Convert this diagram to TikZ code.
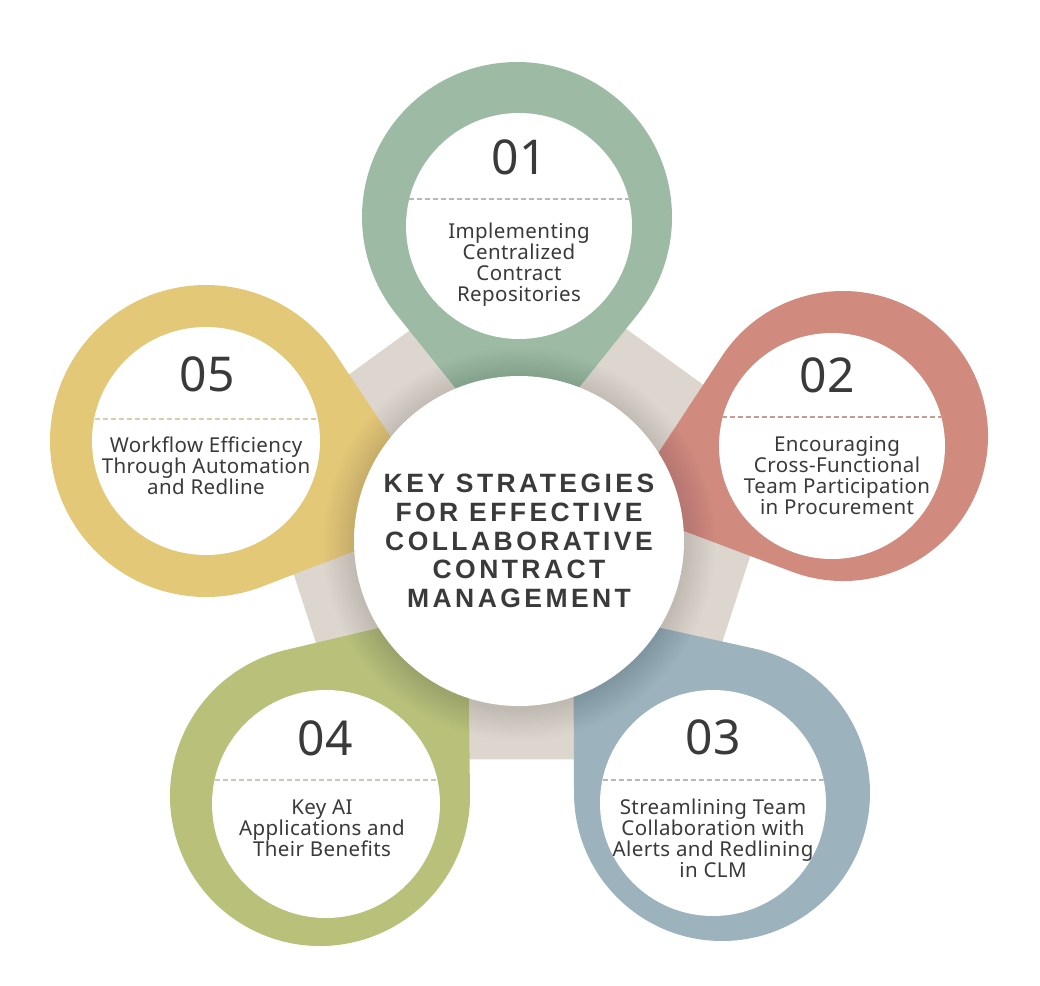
\documentclass[tikz,border=0pt]{standalone}
\usepackage{fontspec}
\setmainfont{Noto Sans}
\newfontfamily\bodyfont{Noto Sans}[LetterSpace=2]
\newfontfamily\titlefont{Liberation Sans}[LetterSpace=13]
\usetikzlibrary{calc}
\definecolor{cgreen}{HTML}{9CBAA4}
\definecolor{csalmon}{HTML}{D08B7E}
\definecolor{cblue}{HTML}{9CB2BD}
\definecolor{colive}{HTML}{B8C07A}
\definecolor{cyellow}{HTML}{E3C878}
\definecolor{cpent}{HTML}{DDD6CF}
\definecolor{ctext}{HTML}{3A3A3A}
\definecolor{dgreen}{HTML}{B8B8B0}
\definecolor{dsalmon}{HTML}{C99B92}
\definecolor{dblue}{HTML}{B4B8BA}
\definecolor{dolive}{HTML}{C9CBB8}
\definecolor{dyellow}{HTML}{D8CFA8}
\newcommand\pinshape[5]{%
  \fill[#1, shift={(#2,#3)}, rotate=#5] (1.6*#4,0) -- (51.32:#4)
    arc[start angle=51.32, end angle=308.68, radius=#4] -- cycle;}
\tikzset{
  numtext/.style={font=\fontsize{48}{50}\selectfont, text=ctext, inner sep=0pt},
  bodytext/.style={font=\bodyfont\fontsize{20.5}{21}\selectfont, text=ctext, align=center, inner sep=0pt},
  titletext/.style={font=\titlefont\bfseries\fontsize{26.5}{28.6}\selectfont, text=ctext, align=center, inner sep=0pt},
  dashline/.style={line width=1.5pt, dash pattern=on 5pt off 3pt},
}
\begin{document}
\begin{tikzpicture}[x=1pt,y=1pt]
\useasboundingbox (0,0) rectangle (1040,-985);
\fill[white] (0,0) rectangle (1040,-985);
% pentagon
\coordinate (P) at (519,-532);
\fill[cpent] ($(P)+(90:281)$) -- ($(P)+(18:281)$) -- ($(P)+(-54:281)$) -- ($(P)+(-126:281)$) -- ($(P)+(162:281)$) -- cycle;
% pins
\pinshape{cgreen}{517}{-217}{155}{-90}
\pinshape{csalmon}{843}{-436}{145}{198}
\pinshape{cblue}{722}{-793}{148}{128.9}
\pinshape{colive}{320}{-796}{150}{52}
\pinshape{cyellow}{206}{-441}{156}{-17.7}
% inner circles with dashed lines
\foreach \cx/\cy/\r/\dy/\dc in {519/-226/113/-199/dgreen, 832/-446/113/-417/dsalmon, 713/-803/113/-780/dblue, 326/-804/114/-780/dolive, 206/-441/114/-419/dyellow}{
  \fill[white] (\cx,\cy) circle[radius=\r];
  \begin{scope}
    \clip (\cx,\cy) circle[radius=\r];
    \draw[dashline, \dc] (\cx-\r-5,\dy) -- (\cx+\r+5,\dy);
  \end{scope}
}
% shadow of the central circle
\foreach \i in {1,...,14}{
  \fill[black, opacity=0.0075] (519,-544) circle[radius=164+2.3*\i];
}
\fill[white] (519,-541) circle[radius=165];
% numbers
\node[numtext] (n1) at (519,-157) {01};
\node[numtext] (n2) at (827,-375) {02};
\node[numtext] (n3) at (713,-737) {03};
\node[numtext] (n4) at (325,-738) {04};
\node[numtext] (n5) at (207,-374) {05};
% texts
\node[bodytext] (t1) at (519,-265) {Implementing\\Centralized\\Contract\\Repositories};
\node[bodytext] (t2) at (837,-476) {Encouraging\\Cross-Functional\\Team Participation\\in Procurement};
\node[bodytext] (t3) at (713,-838) {Streamlining Team\\Collaboration with\\Alerts and Redlining\\in CLM};
\node[bodytext] (t4) at (322,-828) {Key AI\\Applications and\\Their Benefits};
\node[bodytext] (t5) at (206,-466) {Workflow Efficiency\\Through Automation\\and Redline};
\node[titletext] (title) at (519,-541) {KEY STRATEGIES\\FOR EFFECTIVE\\COLLABORATIVE\\CONTRACT\\MANAGEMENT};
\end{tikzpicture}
\end{document}
